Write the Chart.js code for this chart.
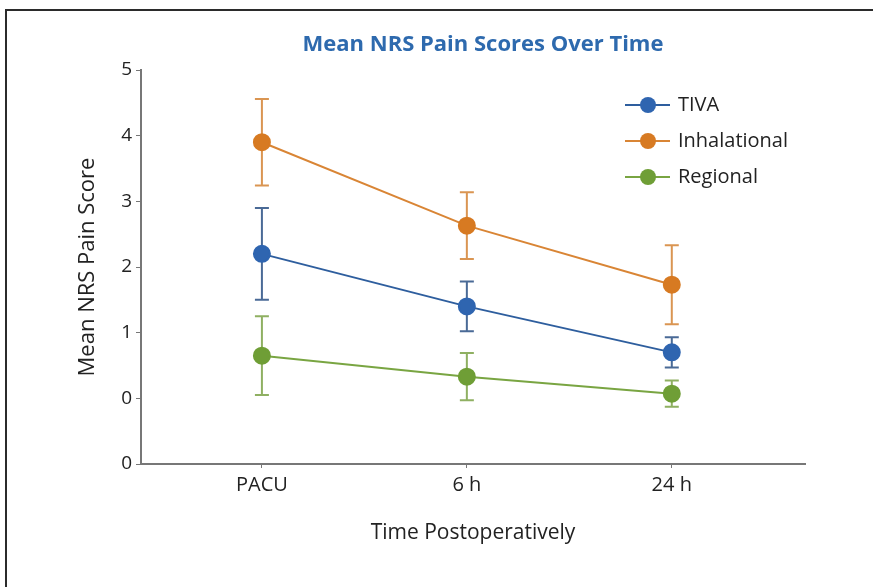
<!DOCTYPE html>
<html>
<head>
<meta charset="utf-8">
<script src="https://cdn.jsdelivr.net/npm/chart.js@4"></script>
<style>
  html, body { margin: 0; padding: 0; background: #fff; overflow: hidden; }
  #wrap { position: relative; width: 873px; height: 587px; overflow: hidden; }
  #frame { position: absolute; left: 5px; top: 9px; width: 900px; height: 620px; border-left: 2px solid #2b2b2b; border-top: 2px solid #2b2b2b; pointer-events: none; }
</style>
</head>
<body>
<div id="wrap">
  <canvas id="lineChart" width="873" height="587"></canvas>
  <div id="frame"></div>
</div>
<script>
const categories = ['PACU', '6 h', '24 h'];
const seriesNames = ['TIVA', 'Inhalational', 'Regional'];
const tivaMean = [2.2, 1.4, 0.7];
const tivaErr = [0.7, 0.38, 0.23];
const inhalMean = [3.9, 2.63, 1.73];
const inhalErr = [0.66, 0.51, 0.6];
const regionalMean = [0.65, 0.33, 0.07];
const regionalErr = [0.6, 0.36, 0.2];
const yTickLabels = ['0', '0', '1', '2', '3', '4', '5'];
const chartTitle = 'Mean NRS Pain Scores Over Time';

const FONT = "'Open Sans', sans-serif";

const styles = [
  { point: '#2f65b0', line: '#2e5e9e', bar: '#4a6a96' },
  { point: '#d77a22', line: '#d98535', bar: '#da9552' },
  { point: '#6f9e36', line: '#79a542', bar: '#8fb062' }
];
const means = [tivaMean, inhalMean, regionalMean];
const errs = [tivaErr, inhalErr, regionalErr];

const datasets = seriesNames.map((name, s) => ({
  label: name,
  data: means[s].map((v, i) => ({ x: i, y: v })),
  errors: errs[s],
  barColor: styles[s].bar,
  borderColor: styles[s].line,
  backgroundColor: styles[s].point,
  pointBackgroundColor: styles[s].point,
  pointBorderColor: styles[s].point,
  pointRadius: 8,
  pointHoverRadius: 8,
  borderWidth: 2,
  tension: 0
}));

// error bars, drawn from the scales
const errorBars = {
  id: 'errorBars',
  beforeDatasetsDraw(chart) {
    const ctx = chart.ctx;
    const xs = chart.scales.x, ys = chart.scales.y;
    ctx.save();
    chart.data.datasets.forEach(ds => {
      ctx.strokeStyle = ds.barColor;
      ctx.lineWidth = 2;
      ds.data.forEach((p, i) => {
        const x = xs.getPixelForValue(p.x);
        const top = ys.getPixelForValue(p.y + ds.errors[i]);
        const bot = ys.getPixelForValue(p.y - ds.errors[i]);
        ctx.beginPath();
        ctx.moveTo(x, top); ctx.lineTo(x, bot);
        ctx.moveTo(x - 7, top); ctx.lineTo(x + 7, top);
        ctx.moveTo(x - 7, bot); ctx.lineTo(x + 7, bot);
        ctx.stroke();
      });
    });
    ctx.restore();
  }
};

// legend with line + marker, and the title
const lineLegend = {
  id: 'lineLegend',
  afterDraw(chart) {
    const ctx = chart.ctx;
    const area = chart.chartArea;
    const x0 = area.right - 180;
    ctx.save();
    ctx.font = '20px ' + FONT;
    ctx.textBaseline = 'middle';
    chart.data.datasets.forEach((ds, k) => {
      const y = area.top + 35 + k * 36;
      ctx.strokeStyle = ds.borderColor;
      ctx.lineWidth = 2;
      ctx.beginPath();
      ctx.moveTo(x0, y); ctx.lineTo(x0 + 45, y);
      ctx.stroke();
      ctx.fillStyle = ds.pointBackgroundColor;
      ctx.beginPath();
      ctx.arc(x0 + 23, y, 8, 0, Math.PI * 2);
      ctx.fill();
      ctx.fillStyle = '#222';
      ctx.fillText(ds.label, x0 + 53, y);
    });
    ctx.font = 'bold 22px ' + FONT;
    ctx.fillStyle = '#2e6aae';
    ctx.textAlign = 'center';
    ctx.fillText(chartTitle, area.left + 342, area.top - 25);
    ctx.restore();
  }
};

new Chart(document.getElementById('lineChart'), {
  type: 'line',
  data: { datasets },
  plugins: [errorBars, lineLegend],
  options: {
    responsive: false,
    animation: false,
    layout: { padding: { left: 0, right: 68, top: 70, bottom: 0 } },
    plugins: {
      legend: { display: false },
      tooltip: { enabled: false },
      title: { display: false }
    },
    scales: {
      x: {
        type: 'linear',
        min: -0.59,
        max: 2.65,
        afterFit(scale) { scale.height = 123; },
        afterBuildTicks(scale) { scale.ticks = categories.map((c, i) => ({ value: i })); },
        ticks: {
          color: '#222',
          font: { family: FONT, size: 20 },
          padding: 5,
          callback: v => categories[v]
        },
        grid: { drawOnChartArea: false, drawTicks: true, tickLength: 4, color: '#777' },
        border: { color: '#777', width: 2 },
        title: {
          display: true,
          text: 'Time Postoperatively',
          color: '#222',
          font: { family: FONT, size: 21 },
          padding: { top: 0, bottom: 41 }
        }
      },
      y: {
        min: -1,
        max: 5,
        afterFit(scale) { scale.width = 141; },
        ticks: {
          stepSize: 1,
          color: '#222',
          font: { family: FONT, size: 19 },
          padding: 4,
          callback: (v, i) => yTickLabels[i]
        },
        grid: { drawOnChartArea: false, drawTicks: true, tickLength: 5, color: '#777' },
        border: { color: '#777', width: 2 },
        title: {
          display: true,
          text: 'Mean NRS Pain Score',
          color: '#222',
          font: { family: FONT, size: 22 },
          padding: { top: 75, bottom: 0 }
        }
      }
    }
  }
});
</script>
</body>
</html>
